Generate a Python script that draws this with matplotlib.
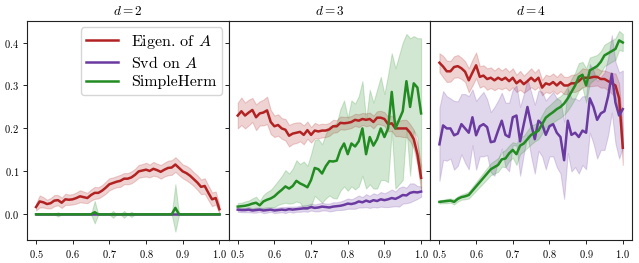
import numpy as np
import matplotlib
matplotlib.use('Agg')
import matplotlib.pyplot as plt

plt.rcParams['font.family'] = 'serif'
plt.rcParams['font.serif'] = ['cmr10']
plt.rcParams['mathtext.fontset'] = 'cm'
plt.rcParams['axes.formatter.use_mathtext'] = True
plt.rcParams['axes.unicode_minus'] = False

x = np.round(np.arange(0.50, 1.001, 0.01), 2)

# d = 2
eig_d2 = [0.017, 0.030, 0.028, 0.024, 0.026, 0.032, 0.033, 0.027, 0.035, 0.034,
          0.035, 0.038, 0.042, 0.040, 0.038, 0.045, 0.050, 0.050, 0.055, 0.062,
          0.070, 0.073, 0.076, 0.078, 0.083, 0.083, 0.086, 0.092, 0.100, 0.102,
          0.104, 0.101, 0.106, 0.103, 0.099, 0.104, 0.108, 0.109, 0.116, 0.108,
          0.100, 0.096, 0.090, 0.082, 0.074, 0.064, 0.066, 0.050, 0.035, 0.038, 0.012]
eig_d2_err = [0.008, 0.014, 0.012, 0.010, 0.012, 0.013, 0.012, 0.012, 0.013, 0.012,
              0.012, 0.013, 0.014, 0.013, 0.012, 0.013, 0.014, 0.013, 0.013, 0.014,
              0.014, 0.013, 0.013, 0.014, 0.013, 0.013, 0.014, 0.014, 0.015, 0.015,
              0.016, 0.015, 0.016, 0.015, 0.016, 0.016, 0.017, 0.017, 0.017, 0.017,
              0.016, 0.017, 0.017, 0.016, 0.017, 0.017, 0.018, 0.017, 0.016, 0.015, 0.010]
svd_d2 = [0.0] * 51
svd_d2_err = [0.0] * 51
sh_d2 = [0.0] * 51
sh_d2[16] = 0.005
sh_d2[38] = 0.015
sh_d2_err = [0.0] * 51
sh_d2_err[6] = 0.005
sh_d2_err[16] = 0.026
sh_d2_err[21] = 0.008
sh_d2_err[24] = 0.008
sh_d2_err[26] = 0.006
sh_d2_err[38] = 0.055

# d = 3
eig_d3 = [0.230, 0.240, 0.230, 0.237, 0.243, 0.226, 0.235, 0.237, 0.242, 0.215,
          0.205, 0.208, 0.200, 0.197, 0.183, 0.188, 0.190, 0.192, 0.185, 0.196,
          0.185, 0.195, 0.193, 0.195, 0.195, 0.198, 0.205, 0.205, 0.213, 0.212,
          0.213, 0.215, 0.220, 0.218, 0.222, 0.220, 0.222, 0.215, 0.225, 0.225,
          0.222, 0.210, 0.212, 0.200, 0.200, 0.200, 0.200, 0.190, 0.175, 0.140, 0.085]
eig_d3_err = [0.030, 0.032, 0.030, 0.030, 0.028, 0.030, 0.028, 0.030, 0.032, 0.028,
              0.025, 0.025, 0.024, 0.025, 0.025, 0.024, 0.024, 0.022, 0.022, 0.020,
              0.018, 0.018, 0.016, 0.016, 0.015, 0.015, 0.015, 0.014, 0.015, 0.015,
              0.014, 0.014, 0.014, 0.015, 0.014, 0.015, 0.015, 0.015, 0.015, 0.016,
              0.016, 0.017, 0.018, 0.018, 0.018, 0.020, 0.020, 0.020, 0.022, 0.025, 0.030]
svd_d3 = [0.011, 0.010, 0.010, 0.011, 0.009, 0.010, 0.011, 0.009, 0.010, 0.011,
          0.009, 0.010, 0.011, 0.010, 0.012, 0.011, 0.012, 0.013, 0.014, 0.014,
          0.017, 0.015, 0.016, 0.018, 0.017, 0.016, 0.018, 0.019, 0.020, 0.022,
          0.025, 0.024, 0.026, 0.030, 0.028, 0.032, 0.029, 0.033, 0.031, 0.035,
          0.033, 0.035, 0.038, 0.036, 0.040, 0.045, 0.044, 0.050, 0.052, 0.051, 0.053]
svd_d3_err = [0.005, 0.005, 0.005, 0.006, 0.005, 0.006, 0.005, 0.006, 0.006, 0.005,
              0.006, 0.006, 0.006, 0.007, 0.006, 0.007, 0.006, 0.007, 0.007, 0.008,
              0.008, 0.008, 0.009, 0.009, 0.008, 0.009, 0.010, 0.009, 0.010, 0.011,
              0.012, 0.011, 0.013, 0.014, 0.012, 0.015, 0.014, 0.016, 0.015, 0.017,
              0.016, 0.018, 0.020, 0.017, 0.022, 0.020, 0.018, 0.022, 0.020, 0.015, 0.012]
sh_d3 = [0.018, 0.019, 0.020, 0.022, 0.025, 0.027, 0.021, 0.030, 0.034, 0.037,
         0.042, 0.050, 0.057, 0.065, 0.060, 0.066, 0.078, 0.072, 0.068, 0.063,
         0.080, 0.108, 0.105, 0.095, 0.112, 0.124, 0.123, 0.125, 0.150, 0.165,
         0.140, 0.165, 0.158, 0.170, 0.200, 0.140, 0.180, 0.160, 0.175, 0.200,
         0.180, 0.200, 0.285, 0.200, 0.220, 0.240, 0.310, 0.250, 0.305, 0.295, 0.235]
sh_d3_err = [0.008, 0.008, 0.010, 0.010, 0.012, 0.014, 0.010, 0.015, 0.018, 0.020,
             0.025, 0.028, 0.032, 0.038, 0.035, 0.040, 0.048, 0.045, 0.055, 0.050,
             0.060, 0.065, 0.070, 0.068, 0.075, 0.080, 0.085, 0.088, 0.095, 0.100,
             0.085, 0.100, 0.100, 0.105, 0.110, 0.080, 0.110, 0.100, 0.115, 0.120,
             0.100, 0.125, 0.090, 0.140, 0.150, 0.160, 0.110, 0.160, 0.110, 0.115, 0.175]

# d = 4
eig_d4 = [0.353, 0.344, 0.333, 0.333, 0.343, 0.345, 0.340, 0.332, 0.312, 0.330,
          0.347, 0.320, 0.323, 0.315, 0.318, 0.312, 0.318, 0.313, 0.318, 0.310,
          0.318, 0.305, 0.312, 0.303, 0.310, 0.318, 0.310, 0.318, 0.295, 0.305,
          0.302, 0.308, 0.300, 0.308, 0.300, 0.300, 0.305, 0.305, 0.310, 0.318,
          0.318, 0.318, 0.320, 0.320, 0.315, 0.315, 0.310, 0.305, 0.300, 0.270, 0.155]
eig_d4_err = [0.022, 0.025, 0.025, 0.024, 0.025, 0.026, 0.025, 0.024, 0.028, 0.030,
              0.030, 0.025, 0.024, 0.025, 0.024, 0.023, 0.024, 0.022, 0.023, 0.022,
              0.022, 0.020, 0.022, 0.020, 0.021, 0.022, 0.020, 0.021, 0.018, 0.020,
              0.020, 0.020, 0.020, 0.021, 0.020, 0.020, 0.020, 0.020, 0.021, 0.022,
              0.020, 0.020, 0.021, 0.020, 0.020, 0.020, 0.022, 0.024, 0.028, 0.035, 0.040]
svd_d4 = [0.163, 0.207, 0.200, 0.200, 0.184, 0.188, 0.210, 0.200, 0.190, 0.226,
          0.184, 0.205, 0.210, 0.203, 0.168, 0.170, 0.195, 0.218, 0.185, 0.180,
          0.226, 0.230, 0.170, 0.210, 0.250, 0.210, 0.175, 0.218, 0.210, 0.185,
          0.205, 0.210, 0.190, 0.180, 0.126, 0.218, 0.185, 0.190, 0.180, 0.195,
          0.190, 0.270, 0.250, 0.220, 0.235, 0.240, 0.275, 0.327, 0.260, 0.230, 0.245]
svd_d4_err = [0.085, 0.080, 0.075, 0.070, 0.080, 0.075, 0.070, 0.080, 0.085, 0.065,
              0.080, 0.070, 0.075, 0.065, 0.070, 0.080, 0.070, 0.065, 0.075, 0.080,
              0.065, 0.070, 0.080, 0.070, 0.065, 0.075, 0.080, 0.070, 0.075, 0.080,
              0.070, 0.075, 0.080, 0.085, 0.090, 0.075, 0.085, 0.080, 0.085, 0.080,
              0.085, 0.080, 0.085, 0.090, 0.085, 0.090, 0.090, 0.090, 0.095, 0.100, 0.090]
sh_d4 = [0.029, 0.030, 0.031, 0.032, 0.029, 0.036, 0.040, 0.042, 0.045, 0.055,
         0.065, 0.075, 0.085, 0.095, 0.105, 0.110, 0.115, 0.128, 0.130, 0.142,
         0.150, 0.140, 0.160, 0.165, 0.175, 0.185, 0.190, 0.195, 0.210, 0.225,
         0.232, 0.238, 0.245, 0.250, 0.258, 0.270, 0.285, 0.300, 0.320, 0.325,
         0.300, 0.335, 0.340, 0.345, 0.355, 0.370, 0.375, 0.380, 0.385, 0.405, 0.400]
sh_d4_err = [0.004, 0.004, 0.005, 0.005, 0.006, 0.006, 0.006, 0.007, 0.008, 0.009,
             0.010, 0.011, 0.012, 0.013, 0.014, 0.015, 0.016, 0.017, 0.020, 0.018,
             0.018, 0.025, 0.020, 0.018, 0.020, 0.022, 0.020, 0.020, 0.022, 0.022,
             0.022, 0.024, 0.025, 0.025, 0.026, 0.028, 0.030, 0.030, 0.032, 0.030,
             0.040, 0.030, 0.028, 0.026, 0.025, 0.025, 0.025, 0.025, 0.025, 0.022, 0.020]

panels = [
    ('$d = 2$', [(eig_d2, eig_d2_err), (svd_d2, svd_d2_err), (sh_d2, sh_d2_err)]),
    ('$d = 3$', [(eig_d3, eig_d3_err), (svd_d3, svd_d3_err), (sh_d3, sh_d3_err)]),
    ('$d = 4$', [(eig_d4, eig_d4_err), (svd_d4, svd_d4_err), (sh_d4, sh_d4_err)]),
]
labels = ['Eigen. of $A$', 'Svd on $A$', 'SimpleHerm']
colors = ['#b22222', '#6a3aa0', '#228b22']

fig, axes = plt.subplots(1, 3, figsize=(6.39, 2.63), dpi=100, sharey=True)
fig.subplots_adjust(left=0.042, right=0.989, top=0.92, bottom=0.087, wspace=0)

for ax, (title, series) in zip(axes, panels):
    for (m, e), lab, c in zip(series, labels, colors):
        m = np.array(m)
        e = np.array(e)
        ax.fill_between(x, m - e, m + e, color=c, alpha=0.2, linewidth=0.8)
        ax.plot(x, m, color=c, lw=1.8, label=lab)
    ax.set_title(title, fontsize=9.5, pad=4)
    ax.set_xticks([0.5, 0.6, 0.7, 0.8, 0.9, 1.0])
    ax.tick_params(labelsize=7.5, length=3, width=0.6, pad=2.5)
    for s in ax.spines.values():
        s.set_linewidth(0.8)
        s.set_color('#222222')

axes[0].set_ylim(-0.06, 0.45)
axes[0].set_yticks([0.0, 0.1, 0.2, 0.3, 0.4])
axes[0].legend(loc='upper right', fontsize=11.5, handlelength=2.0,
               borderpad=0.35, labelspacing=0.25, handletextpad=0.8,
               borderaxespad=0.4)

plt.savefig('out.png', dpi=100)
